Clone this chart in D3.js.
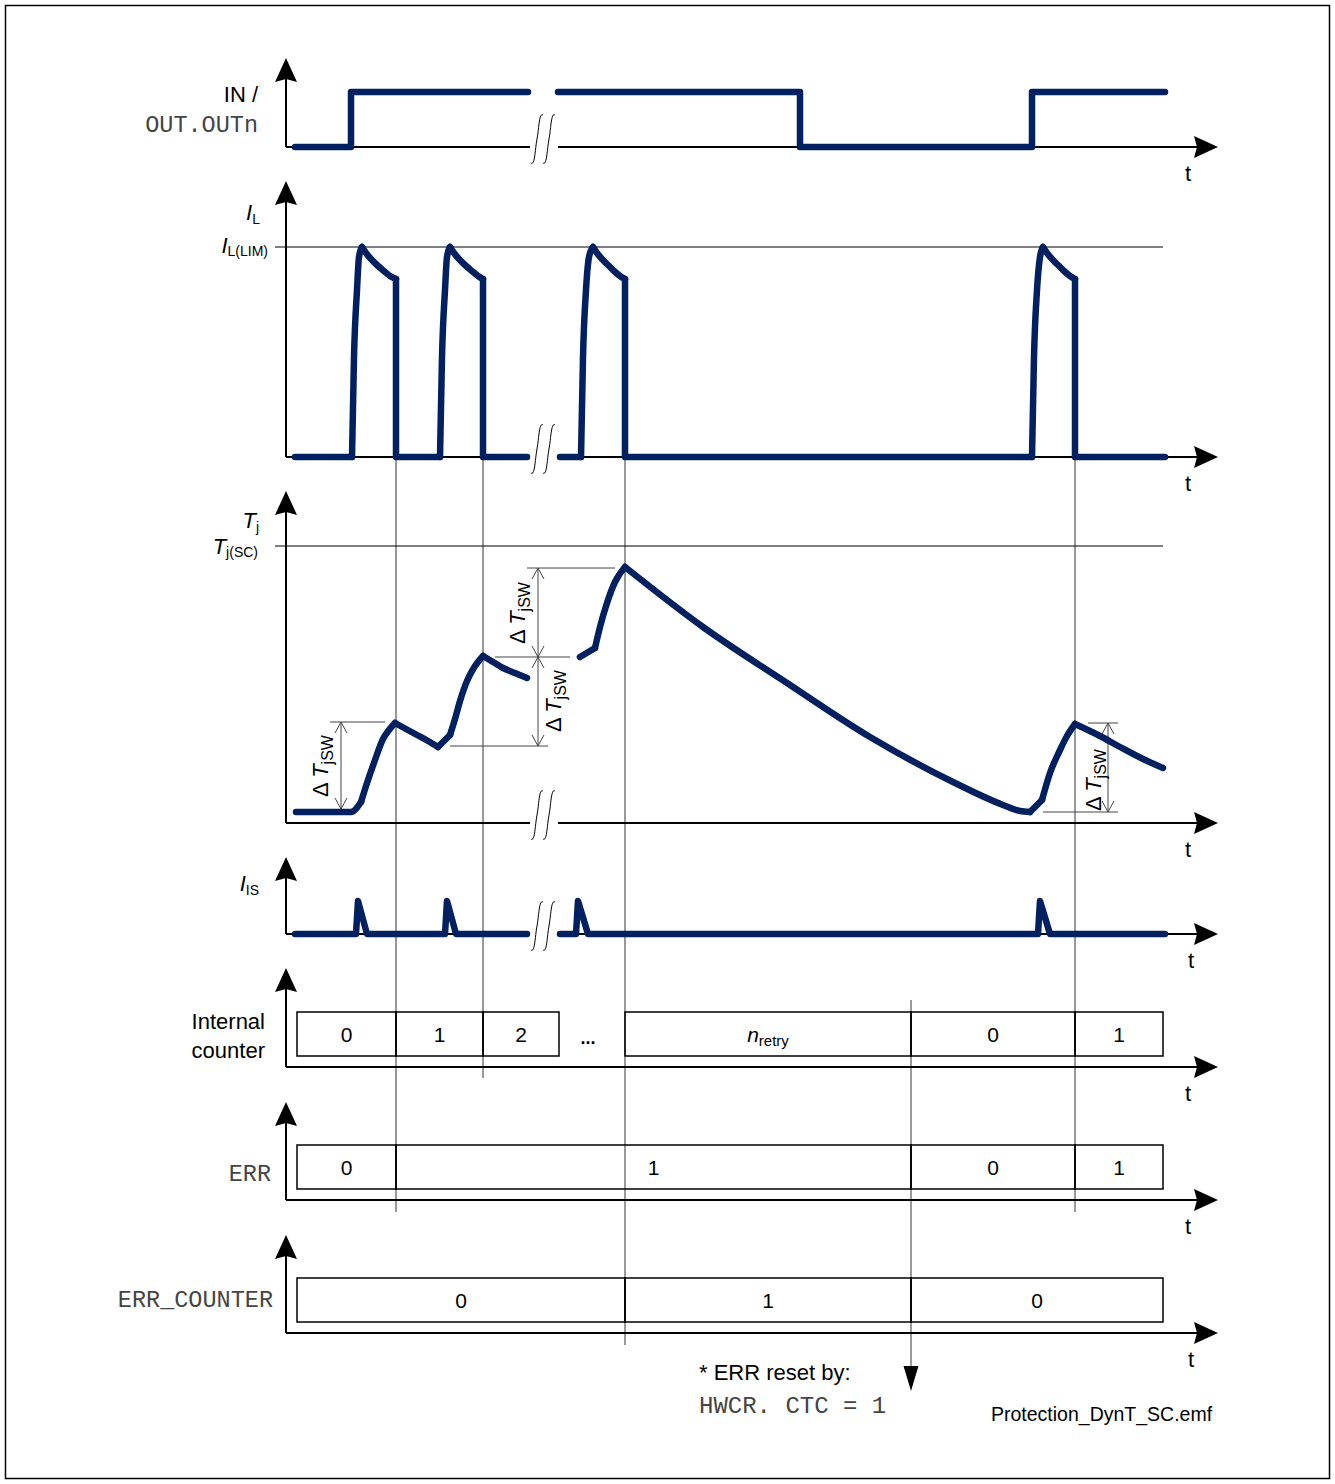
<!DOCTYPE html>
<html>
<head>
<meta charset="utf-8">
<script src="https://d3js.org/d3.v7.min.js"></script>
<style>
  body { margin: 0; background: #fff; }
  text { font-family: Arial, "Liberation Sans", sans-serif; fill: #000; }
  .mono { font-family: "Courier New", "Liberation Mono", monospace; fill: #444; }
</style>
</head>
<body>
<div id="canvas"></div>
<script>
// ---- data (time in arbitrary units) ----
var breakTime = 258;          // where the time axis is interrupted
var ilLimit = 210;            // I_L(LIM)
var tjShort = 277;            // T_j(SC)

// IN / OUT.OUTn (each inner array is one stroke)
var inPieces = [
  [[10,0],[66,0],[66,1],[243,1]],
  [[273,1],[515,1],[515,0],[747,0],[747,1],[880,1]]
];

// load current I_L
var ilPieces = [
  [[10,0],[67,0]],
  [[67,0],[69,100],[72,167],[74,200],[77,210]],
  [[77,210],[81,204],[86,198],[92,192],[99,186],[105,181],[111,178]],
  [[111,178],[111,0],[155,0]],
  [[155,0],[157,100],[160,167],[162,200],[165,210]],
  [[165,210],[169,204],[174,198],[180,192],[187,186],[193,181],[198,178]],
  [[198,178],[198,0],[242,0]],
  [[275,0],[296,0]],
  [[296,0],[298,100],[301,167],[304,200],[308,210]],
  [[308,210],[312,204],[317,198],[323,192],[329,186],[335,181],[340,178]],
  [[340,178],[340,0],[747,0]],
  [[747,0],[749,100],[752,167],[755,200],[758,210]],
  [[758,210],[762,204],[767,198],[773,192],[779,186],[785,181],[790,178]],
  [[790,178],[790,0],[880,0]]
];

// junction temperature T_j
var tjPieces = [
  [[11,11],[66,11],[76,21]],
  [[76,21],[82,40],[90,63],[98,84],[104,93],[110,100]],
  [[110,100],[121,94],[132,88],[143,82],[153,76]],
  [[153,76],[165,88]],
  [[165,88],[170,104],[175,122],[182,142],[190,157],[198,167]],
  [[198,167],[208,161],[218,155],[230,150],[242,145]],
  [[295,166],[310,175]],
  [[310,175],[315,196],[322,220],[330,241],[340,256]],
  [[340,256],[418,196],[502,140],[585,86],[668,41],[718,18],[735,12],[745,11]],
  [[745,11],[757,23]],
  [[757,23],[765,50],[775,73],[782,87],[790,99]],
  [[790,99],[815,87],[835,76],[858,64],[878,55]]
];

// sense current I_IS
var isPieces = [
  [[10,0],[71,0],[73,1],[82,0],[160,0],[162,1],[171,0],[242,0]],
  [[275,0],[291,0],[293,1],[303,0],[753,0],[755,1],[765,0],[880,0]]
];

// state boxes
var counterCells = [
  {from: 12,  to: 111, label: "0"},
  {from: 111, to: 198, label: "1"},
  {from: 198, to: 274, label: "2"},
  {from: 340, to: 626, label: "nretry"},
  {from: 626, to: 790, label: "0"},
  {from: 790, to: 878, label: "1"}
];
var ellipsisTime = 303;
var errCells = [
  {from: 12,  to: 111, label: "0"},
  {from: 111, to: 626, label: "1"},
  {from: 626, to: 790, label: "0"},
  {from: 790, to: 878, label: "1"}
];
var errCounterCells = [
  {from: 12,  to: 340, label: "0"},
  {from: 340, to: 626, label: "1"},
  {from: 626, to: 878, label: "0"}
];

// vertical event markers
var guideTimes = [111, 198, 340, 790];
var resetTime = 626;

// delta T_jSW markers
var dtMarks = [
  {t: 56,  hi: 101, lo: 14, hiLine: [45, 100], loLine: null},
  {t: 253, hi: 255, lo: 166, hiLine: [242, 330], loLine: [210, 285]},
  {t: 253, hi: 166, lo: 77,  hiLine: null, loLine: [165, 263]},
  {t: 823, hi: 100, lo: 11,  hiLine: [803, 833], loLine: [758, 833]}
];

// ---- canvas ----
var w = 1335, h = 1484;
var svg = d3.select("#canvas").append("svg")
    .attr("width", w)
    .attr("height", h);

svg.append("rect")
    .attr("x", 5.5).attr("y", 5.5)
    .attr("width", 1324).attr("height", 1473)
    .attr("fill", "none").attr("stroke", "#000").attr("stroke-width", 1.5);

var x = d3.scaleLinear().domain([0, 930]).range([285, 1215]);
var x0 = 286, xTip = 1218;
var navy = "#00205f";

var yIn = d3.scaleLinear().domain([0, 1]).range([147, 92]);
var yIL = d3.scaleLinear().domain([0, ilLimit]).range([457, 247]);
var yTj = d3.scaleLinear().domain([0, tjShort]).range([823, 546]);
var yIS = d3.scaleLinear().domain([0, 1]).range([934, 901]);
var yCnt = 1067, yErr = 1200, yErrC = 1333;

// ---- guide lines (behind everything) ----
var guides = svg.append("g").attr("stroke", "#555").attr("stroke-width", 1.2);
var guideEnds = {111: 1212, 198: 1078, 340: 1345, 790: 1212};
guideTimes.forEach(function(t) {
    guides.append("line")
        .attr("x1", x(t)).attr("x2", x(t))
        .attr("y1", yIL(0)).attr("y2", guideEnds[t]);
});
guides.append("line")
    .attr("x1", x(resetTime)).attr("x2", x(resetTime))
    .attr("y1", 1000).attr("y2", 1370);
svg.append("path")
    .attr("d", `M${x(resetTime) - 7.5},1366 L${x(resetTime) + 7.5},1366 L${x(resetTime)},1391 Z`)
    .attr("fill", "#000");

// ---- axes ----
function axes(y0, tip, brk, tx) {
    var g = svg.append("g");
    g.append("line").attr("x1", x0).attr("x2", x0).attr("y1", y0).attr("y2", tip + 18)
        .attr("stroke", "#000").attr("stroke-width", 2);
    g.append("path")
        .attr("d", `M${x0},${tip} L${x0 + 11},${tip + 24} L${x0},${tip + 21} L${x0 - 11},${tip + 24} Z`)
        .attr("fill", "#000");
    var segs = brk ? [[x0, x(breakTime - 13)], [x(breakTime + 15), xTip - 18]] : [[x0, xTip - 18]];
    segs.forEach(function(s) {
        g.append("line").attr("x1", s[0]).attr("x2", s[1]).attr("y1", y0).attr("y2", y0)
            .attr("stroke", "#000").attr("stroke-width", 2);
    });
    g.append("path")
        .attr("d", `M${xTip},${y0} L${xTip - 24},${y0 - 11} L${xTip - 21},${y0} L${xTip - 24},${y0 + 11} Z`)
        .attr("fill", "#000");
    g.append("text").attr("x", tx).attr("y", y0 + 34)
        .attr("text-anchor", "middle").style("font-size", "22px").text("t");
}
axes(yIn(0), 58, true, 1188);
axes(yIL(0), 181, true, 1188);
axes(yTj(0), 491, true, 1188);
axes(yIS(0), 857, true, 1191);
axes(yCnt, 968, false, 1188);
axes(yErr, 1102, false, 1188);
axes(yErrC, 1235, false, 1191);

// break marks
function breakMark(yc) {
    var xc = x(breakTime);
    [-6, 6].forEach(function(dx) {
        var cx = xc + dx;
        svg.append("path")
            .attr("d", `M${cx - 6},${yc + 24} C${cx - 2},${yc + 27} ${cx - 2},${yc + 10} ${cx},${yc} S${cx + 2},${yc - 27} ${cx + 6},${yc - 24}`)
            .attr("fill", "none").attr("stroke", "#000").attr("stroke-width", 1);
    });
}
[yIn(0), yIL(0), yTj(0), yIS(0)].forEach(function(y0) { breakMark(y0 - 8); });

// limit lines
svg.append("line").attr("x1", 275).attr("x2", x(878)).attr("y1", yIL(ilLimit)).attr("y2", yIL(ilLimit))
    .attr("stroke", "#000").attr("stroke-width", 1);
svg.append("line").attr("x1", 275).attr("x2", x(878)).attr("y1", yTj(tjShort)).attr("y2", yTj(tjShort))
    .attr("stroke", "#000").attr("stroke-width", 1);

// ---- delta T markers ----
var dt = svg.append("g").attr("stroke", "#444").attr("stroke-width", 1).attr("fill", "none");
dtMarks.forEach(function(m) {
    var ax = x(m.t), yh = yTj(m.hi), yl = yTj(m.lo);
    if (m.hiLine) dt.append("line").attr("x1", x(m.hiLine[0])).attr("x2", x(m.hiLine[1])).attr("y1", yh).attr("y2", yh);
    if (m.loLine) dt.append("line").attr("x1", x(m.loLine[0])).attr("x2", x(m.loLine[1])).attr("y1", yl).attr("y2", yl);
    dt.append("line").attr("x1", ax).attr("x2", ax).attr("y1", yh).attr("y2", yl);
    dt.append("path").attr("d", `M${ax - 6},${yh + 11} L${ax},${yh} L${ax + 6},${yh + 11}`);
    dt.append("path").attr("d", `M${ax - 6},${yl - 11} L${ax},${yl} L${ax + 6},${yl - 11}`);
});

function deltaLabel(px, py) {
    var t = svg.append("text")
        .attr("transform", `translate(${px},${py}) rotate(-90)`)
        .attr("text-anchor", "middle")
        .style("font-size", "22px");
    t.append("tspan").text("\u0394\u2009");
    t.append("tspan").style("font-style", "italic").text("T");
    t.append("tspan").attr("dy", 5).style("font-size", "16px").text("jSW");
}
deltaLabel(328, 766);
deltaLabel(525, 613);
deltaLabel(561, 701);
deltaLabel(1101, 780);

// ---- signals ----
// smooth pieces (x strictly increasing) get a monotone curve, steps stay straight
function trace(pieces, yScale, smooth) {
    pieces.forEach(function(p) {
        var rising = p.every((d, i) => i === 0 || d[0] > p[i - 1][0]);
        var line = d3.line()
            .x(d => x(d[0])).y(d => yScale(d[1]))
            .curve(smooth && rising && p.length > 2 ? d3.curveMonotoneX : d3.curveLinear);
        svg.append("path")
            .attr("d", line(p))
            .attr("fill", "none")
            .attr("stroke", navy)
            .attr("stroke-width", 6.5)
            .attr("stroke-linejoin", "round")
            .attr("stroke-linecap", "round");
    });
}
trace(inPieces, yIn, false);
trace(ilPieces, yIL, true);
trace(tjPieces, yTj, true);
trace(isPieces, yIS, false);

// ---- state boxes ----
function cells(data, yTop, yBot) {
    var g = svg.append("g");
    g.selectAll("rect")
        .data(data)
        .join("rect")
        .attr("x", d => x(d.from))
        .attr("y", yTop)
        .attr("width", d => x(d.to) - x(d.from))
        .attr("height", yBot - yTop)
        .attr("fill", "none")
        .attr("stroke", "#000")
        .attr("stroke-width", 1.5);
    data.forEach(function(d) {
        var t = g.append("text")
            .attr("x", (x(d.from) + x(d.to)) / 2)
            .attr("y", (yTop + yBot) / 2 + 8)
            .attr("text-anchor", "middle")
            .style("font-size", "21px");
        if (d.label === "nretry") {
            t.append("tspan").style("font-style", "italic").text("n");
            t.append("tspan").attr("dy", 4).style("font-size", "15px").text("retry");
        } else {
            t.text(d.label);
        }
    });
}
cells(counterCells, yCnt - 55, yCnt - 11);
cells(errCells, yErr - 55, yErr - 11);
cells(errCounterCells, yErrC - 55, yErrC - 11);

svg.append("text").attr("x", x(ellipsisTime)).attr("y", 1044)
    .attr("text-anchor", "middle").style("font-size", "18px").style("font-weight", "bold").text("...");

// ---- axis labels ----
function label(px, py, main, sub, italic, subDy) {
    var t = svg.append("text").attr("x", px).attr("y", py).attr("text-anchor", "end").style("font-size", "22px");
    t.append("tspan").style("font-style", italic ? "italic" : "normal").text(main);
    if (sub) t.append("tspan").attr("dy", subDy).style("font-size", "14px").text(sub);
}
label(258, 102, "IN /", null, false, 0);
svg.append("text").attr("class", "mono").attr("x", 258).attr("y", 132)
    .attr("text-anchor", "end").style("font-size", "23.5px").text("OUT.OUTn");
label(260, 220, "I", "L", true, 4);
label(268, 253, "I", "L(LIM)", true, 3);
label(259, 528, "T", "j", true, 4);
label(258, 554, "T", "j(SC)", true, 3);
label(259, 891, "I", "IS", true, 4);

svg.append("text").attr("x", 265).attr("y", 1029).attr("text-anchor", "end").style("font-size", "22px").text("Internal");
svg.append("text").attr("x", 265).attr("y", 1058).attr("text-anchor", "end").style("font-size", "22px").text("counter");
svg.append("text").attr("class", "mono").attr("x", 271).attr("y", 1181)
    .attr("text-anchor", "end").style("font-size", "23.5px").text("ERR");
svg.append("text").attr("class", "mono").attr("x", 273).attr("y", 1307)
    .attr("text-anchor", "end").style("font-size", "23.5px").text("ERR_COUNTER");

// ---- footnote ----
svg.append("text").attr("x", 699).attr("y", 1380).style("font-size", "22px").text("* ERR reset by:");
svg.append("text").attr("class", "mono").attr("x", 699).attr("y", 1413)
    .style("font-size", "24px").attr("xml:space", "preserve").text("HWCR. CTC = 1");
svg.append("text").attr("x", 991).attr("y", 1421).style("font-size", "19.5px").text("Protection_DynT_SC.emf");
</script>
</body>
</html>
